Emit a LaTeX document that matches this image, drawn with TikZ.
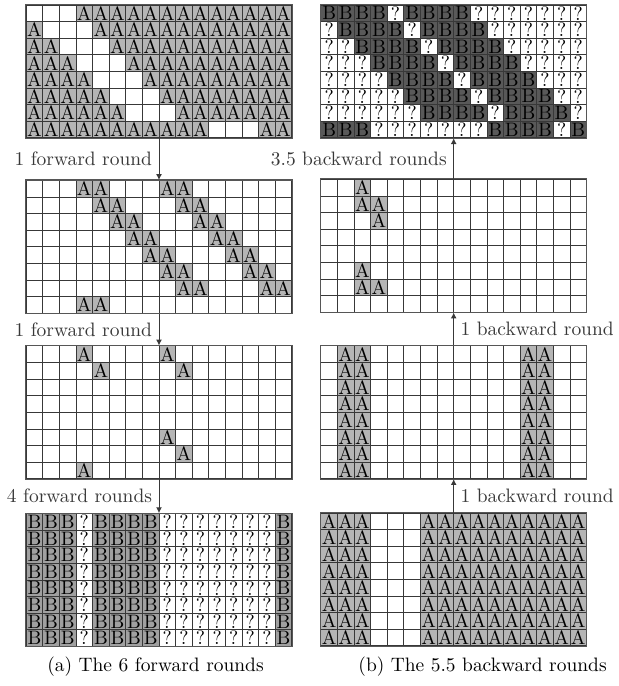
\documentclass[tikz,border=0pt]{standalone}
\usepackage{tikz}
\usetikzlibrary{arrows.meta}
\definecolor{agray}{HTML}{B5B5B5}
\definecolor{bdark}{HTML}{595959}
\definecolor{bmid}{HTML}{A0A0A0}
\definecolor{rule}{HTML}{383838}

\newcommand{\txta}{A}
\newcommand{\txtb}{B}
\newcommand{\txtc}{B}
\newcommand{\txtq}{?}
\newcommand{\txte}{}
\newcommand{\fillpanel}[2]{%
  \foreach \row [count=\rw from 0] in {#2} {
    \foreach \t [count=\col from 0] in \row
      \node[cell\t] (#1-\rw-\col) at ([shift={(0.3*\col-2.25,1.05-0.3*\rw)}]#1.center)
        {\csname txt\t\endcsname};
  }}

\begin{document}
\begin{tikzpicture}[
  panel/.style={minimum width=4.8cm, minimum height=2.4cm, inner sep=0pt},
  frame/.style={draw=rule!85, line width=0.6pt},
  cell/.style={draw=rule, line width=0.4pt, minimum size=0.3cm, inner sep=0pt},
  cella/.style={cell, fill=agray},
  cellb/.style={cell, fill=bdark},
  cellc/.style={cell, fill=bmid},
  cellq/.style={cell},
  celle/.style={cell},
  arrow/.style={-{Latex[length=3pt,width=3pt]}, color=rule, line width=0.5pt}
]
  \useasboundingbox (0,0) rectangle (11.185,-12.396);

  \node[panel] (fw0) at (2.873,-1.29)  {};
  \node[panel] (fw1) at (2.873,-4.46)  {};
  \node[panel] (fw2) at (2.873,-7.45)  {};
  \node[panel] (fw3) at (2.873,-10.48) {};

  \node[panel] (bk3) at (8.198,-1.29)  {};
  \node[panel] (bk2) at (8.198,-4.44)  {};
  \node[panel] (bk1) at (8.198,-7.45)  {};
  \node[panel] (bk0) at (8.198,-10.47) {};

  \fillpanel{fw0}{
    {e,e,e,a,a,a,a,a,a,a,a,a,a,a,a,a},
    {a,e,e,e,a,a,a,a,a,a,a,a,a,a,a,a},
    {a,a,e,e,e,a,a,a,a,a,a,a,a,a,a,a},
    {a,a,a,e,e,e,a,a,a,a,a,a,a,a,a,a},
    {a,a,a,a,e,e,e,a,a,a,a,a,a,a,a,a},
    {a,a,a,a,a,e,e,e,a,a,a,a,a,a,a,a},
    {a,a,a,a,a,a,e,e,e,a,a,a,a,a,a,a},
    {a,a,a,a,a,a,a,a,a,a,a,e,e,e,a,a}}
  \fillpanel{fw1}{
    {e,e,e,a,a,e,e,e,a,a,e,e,e,e,e,e},
    {e,e,e,e,a,a,e,e,e,a,a,e,e,e,e,e},
    {e,e,e,e,e,a,a,e,e,e,a,a,e,e,e,e},
    {e,e,e,e,e,e,a,a,e,e,e,a,a,e,e,e},
    {e,e,e,e,e,e,e,a,a,e,e,e,a,a,e,e},
    {e,e,e,e,e,e,e,e,a,a,e,e,e,a,a,e},
    {e,e,e,e,e,e,e,e,e,a,a,e,e,e,a,a},
    {e,e,e,a,a,e,e,e,e,e,e,e,e,e,e,e}}
  \fillpanel{fw2}{
    {e,e,e,a,e,e,e,e,a,e,e,e,e,e,e,e},
    {e,e,e,e,a,e,e,e,e,a,e,e,e,e,e,e},
    {e,e,e,e,e,e,e,e,e,e,e,e,e,e,e,e},
    {e,e,e,e,e,e,e,e,e,e,e,e,e,e,e,e},
    {e,e,e,e,e,e,e,e,e,e,e,e,e,e,e,e},
    {e,e,e,e,e,e,e,e,a,e,e,e,e,e,e,e},
    {e,e,e,e,e,e,e,e,e,a,e,e,e,e,e,e},
    {e,e,e,a,e,e,e,e,e,e,e,e,e,e,e,e}}
  \fillpanel{fw3}{
    {c,c,c,q,c,c,c,c,q,q,q,q,q,q,q,c},
    {c,c,c,q,c,c,c,c,q,q,q,q,q,q,q,c},
    {c,c,c,q,c,c,c,c,q,q,q,q,q,q,q,c},
    {c,c,c,q,c,c,c,c,q,q,q,q,q,q,q,c},
    {c,c,c,q,c,c,c,c,q,q,q,q,q,q,q,c},
    {c,c,c,q,c,c,c,c,q,q,q,q,q,q,q,c},
    {c,c,c,q,c,c,c,c,q,q,q,q,q,q,q,c},
    {c,c,c,q,c,c,c,c,q,q,q,q,q,q,q,c}}

  \fillpanel{bk0}{
    {a,a,a,e,e,e,a,a,a,a,a,a,a,a,a,a},
    {a,a,a,e,e,e,a,a,a,a,a,a,a,a,a,a},
    {a,a,a,e,e,e,a,a,a,a,a,a,a,a,a,a},
    {a,a,a,e,e,e,a,a,a,a,a,a,a,a,a,a},
    {a,a,a,e,e,e,a,a,a,a,a,a,a,a,a,a},
    {a,a,a,e,e,e,a,a,a,a,a,a,a,a,a,a},
    {a,a,a,e,e,e,a,a,a,a,a,a,a,a,a,a},
    {a,a,a,e,e,e,a,a,a,a,a,a,a,a,a,a}}
  \fillpanel{bk1}{
    {e,a,a,e,e,e,e,e,e,e,e,e,a,a,e,e},
    {e,a,a,e,e,e,e,e,e,e,e,e,a,a,e,e},
    {e,a,a,e,e,e,e,e,e,e,e,e,a,a,e,e},
    {e,a,a,e,e,e,e,e,e,e,e,e,a,a,e,e},
    {e,a,a,e,e,e,e,e,e,e,e,e,a,a,e,e},
    {e,a,a,e,e,e,e,e,e,e,e,e,a,a,e,e},
    {e,a,a,e,e,e,e,e,e,e,e,e,a,a,e,e},
    {e,a,a,e,e,e,e,e,e,e,e,e,a,a,e,e}}
  \fillpanel{bk2}{
    {e,e,a,e,e,e,e,e,e,e,e,e,e,e,e,e},
    {e,e,a,a,e,e,e,e,e,e,e,e,e,e,e,e},
    {e,e,e,a,e,e,e,e,e,e,e,e,e,e,e,e},
    {e,e,e,e,e,e,e,e,e,e,e,e,e,e,e,e},
    {e,e,e,e,e,e,e,e,e,e,e,e,e,e,e,e},
    {e,e,a,e,e,e,e,e,e,e,e,e,e,e,e,e},
    {e,e,a,a,e,e,e,e,e,e,e,e,e,e,e,e},
    {e,e,e,e,e,e,e,e,e,e,e,e,e,e,e,e}}
  \fillpanel{bk3}{
    {b,b,b,b,q,b,b,b,b,q,q,q,q,q,q,q},
    {q,b,b,b,b,q,b,b,b,b,q,q,q,q,q,q},
    {q,q,b,b,b,b,q,b,b,b,b,q,q,q,q,q},
    {q,q,q,b,b,b,b,q,b,b,b,b,q,q,q,q},
    {q,q,q,q,b,b,b,b,q,b,b,b,b,q,q,q},
    {q,q,q,q,q,b,b,b,b,q,b,b,b,b,q,q},
    {q,q,q,q,q,q,b,b,b,b,q,b,b,b,b,q},
    {b,b,b,q,q,q,q,q,q,q,b,b,b,b,q,b}}

  \foreach \p in {fw0,fw1,fw2,fw3,bk0,bk1,bk2,bk3}
    \draw[frame] (\p.south west) rectangle (\p.north east);

  \draw[arrow] (fw0) -- node[left] {1 forward round} (fw1);
  \draw[arrow] (fw1) -- node[left] {1 forward round} (fw2);
  \draw[arrow] (fw2) -- node[left] {4 forward rounds} (fw3);

  \draw[arrow] (bk0) -- node[right] {1 backward round} (bk1);
  \draw[arrow] (bk1) -- node[right] {1 backward round} (bk2);
  \draw[arrow] (bk2) -- node[left] {3.5 backward rounds} (bk3);

  \node (capa) at (2.81,-12.05) {(a) The 6 forward rounds};
  \node (capb) at (8.72,-12.05) {(b) The 5.5 backward rounds};
\end{tikzpicture}
\end{document}
